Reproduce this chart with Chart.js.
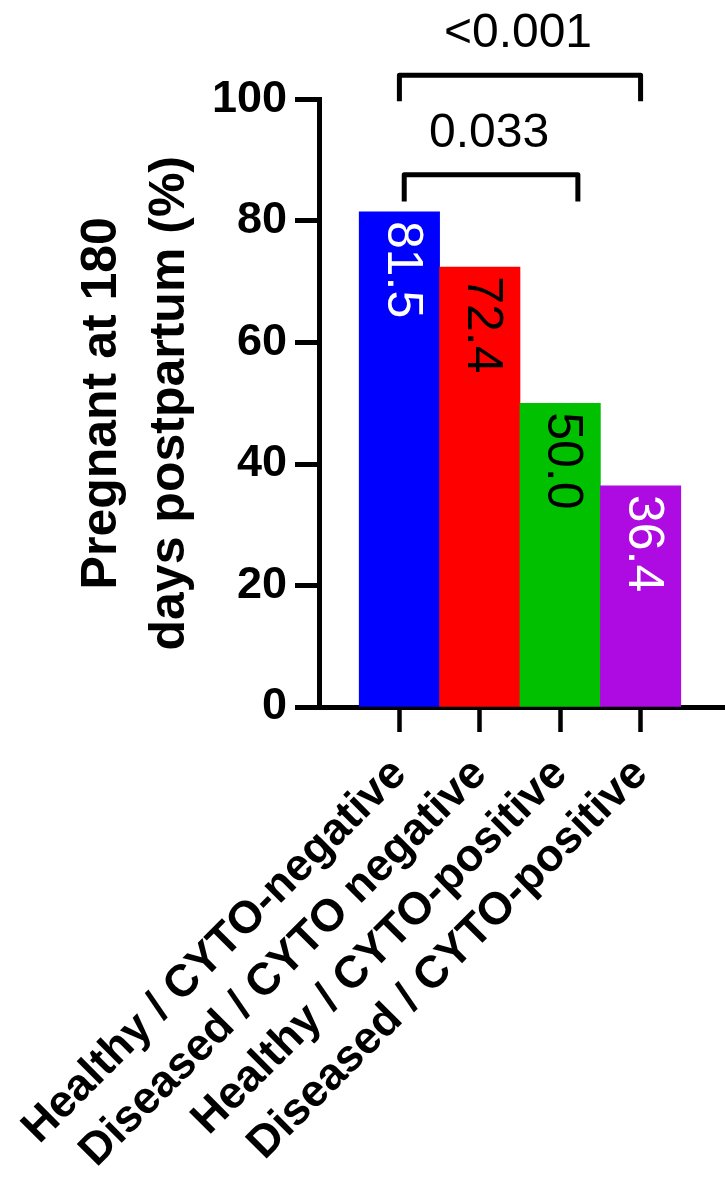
<!DOCTYPE html>
<html><head><meta charset="utf-8">
<script src="https://cdn.jsdelivr.net/npm/chart.js@4.4.1/dist/chart.umd.min.js"></script>
<style>html,body{margin:0;padding:0;background:#fff;}</style>
</head><body>
<canvas id="c" width="725" height="1178" style="display:block;width:725px;height:1178px"></canvas>
<script>
// ---- data ----
const categories = ['Healthy / CYTO-negative', 'Diseased / CYTO negative', 'Healthy / CYTO-positive', 'Diseased / CYTO-positive'];
const pregnantPct = [81.5, 72.4, 50.0, 36.4];
const yTicks = [0, 20, 40, 60, 80, 100];
const yTitle = ['Pregnant at 180', 'days postpartum (%)'];
const comparisonLabels = ['<0.001', '0.033'];
const comparisonFrom = [0, 0.06];
const comparisonTo = [3, 2.22];
const comparisonBarLevel = [104.0, 87.6];
const comparisonLegEnd = [99.7, 83.2];

// ---- styles ----
const FAMILY = '"Liberation Sans", Arial, Helvetica, sans-serif';
const barColors = ['#0000FF', '#FF0000', '#00C000', '#AE0AE2'];
const valueLabelColors = ['#FFFFFF', '#000000', '#000000', '#FFFFFF'];

const barValueLabels = {
  id: 'barValueLabels',
  afterDatasetsDraw(chart) {
    const meta = chart.getDatasetMeta(0);
    const ctx = chart.ctx;
    ctx.save();
    ctx.font = 'normal 50px ' + FAMILY;
    meta.data.forEach((bar, i) => {
      ctx.save();
      ctx.translate(bar.x + 2, bar.y + 9);
      ctx.rotate(Math.PI / 2);
      ctx.fillStyle = valueLabelColors[i];
      ctx.textAlign = 'left';
      ctx.textBaseline = 'middle';
      ctx.fillText(pregnantPct[i].toFixed(1), 0, 0);
      ctx.restore();
    });
    ctx.restore();
  }
};

const comparisonBrackets = {
  id: 'comparisonBrackets',
  afterDraw(chart) {
    const xs = chart.scales.x, ys = chart.scales.y, ctx = chart.ctx;
    ctx.save();
    ctx.strokeStyle = '#000';
    ctx.fillStyle = '#000';
    ctx.lineWidth = 5;
    ctx.lineJoin = 'round';
    ctx.lineCap = 'butt';
    ctx.font = 'normal 48px ' + FAMILY;
    ctx.textAlign = 'center';
    ctx.textBaseline = 'alphabetic';
    comparisonLabels.forEach((lab, i) => {
      const x1 = xs.getPixelForValue(comparisonFrom[i]);
      const x2 = xs.getPixelForValue(comparisonTo[i]);
      const yb = ys.getPixelForValue(comparisonBarLevel[i]);
      const yl = ys.getPixelForValue(comparisonLegEnd[i]);
      ctx.beginPath();
      ctx.moveTo(x1, yl);
      ctx.lineTo(x1, yb);
      ctx.lineTo(x2, yb);
      ctx.lineTo(x2, yl);
      ctx.stroke();
      ctx.fillText(lab, (x1 + x2) / 2 - 2, yb - 28);
    });
    ctx.restore();
  }
};

new Chart(document.getElementById('c').getContext('2d'), {
  type: 'bar',
  data: {
    datasets: [{
      data: pregnantPct.map((v, i) => ({ x: i, y: v })),
      backgroundColor: barColors,
      borderWidth: 0,
      barPercentage: 1,
      categoryPercentage: 1
    }]
  },
  options: {
    responsive: false,
    animation: false,
    devicePixelRatio: 1,
    layout: { padding: { top: 99.5, left: 0, right: 0, bottom: 0 } },
    plugins: { legend: { display: false }, tooltip: { enabled: false } },
    scales: {
      x: {
        type: 'linear',
        offset: false,
        min: -1,
        max: 4.05,
        afterBuildTicks: s => { s.ticks = categories.map((_, i) => ({ value: i })); },
        afterFit: s => { s.height = 471; s.paddingLeft = 0; s.paddingRight = 0; },
        grid: { display: true, offset: false, drawOnChartArea: false, drawTicks: true, tickLength: 25, tickWidth: 4.5, tickColor: '#000' },
        border: { display: true, width: 5, color: '#000' },
        ticks: {
          autoSkip: false, maxRotation: 45, minRotation: 45, padding: 16, color: '#000',
          font: { family: FAMILY, size: 45, weight: 'bold', lineHeight: 1.2 },
          callback: v => (categories[v] !== undefined ? categories[v] : '')
        }
      },
      y: {
        min: 0,
        max: 100,
        afterBuildTicks: s => { s.ticks = yTicks.map(v => ({ value: v })); },
        afterFit: s => { s.width = 319; s.paddingTop = 0; s.paddingBottom = 0; },
        grid: { drawOnChartArea: false, drawTicks: true, tickLength: 24, tickWidth: 5, tickColor: '#000' },
        border: { display: true, width: 5, color: '#000' },
        ticks: { padding: 8, color: '#000', font: { family: FAMILY, size: 45, weight: 'bold' } },
        title: {
          display: true, text: yTitle, color: '#000',
          font: { family: FAMILY, size: 50, weight: 'bold', lineHeight: 1.36 },
          padding: { top: 68.5, bottom: 0 }
        }
      }
    }
  },
  plugins: [barValueLabels, comparisonBrackets]
});
</script>
</body></html>
